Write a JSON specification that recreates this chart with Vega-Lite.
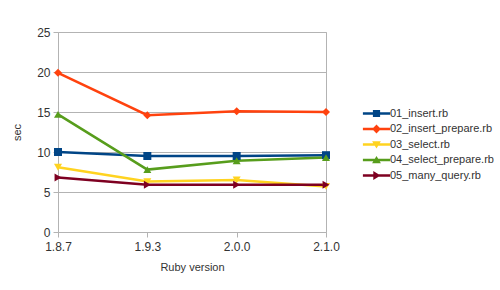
{
  "$schema": "https://vega.github.io/schema/vega-lite/v6.json",
  "width": 268,
  "height": 200,
  "autosize": "none",
  "padding": {"left": 58, "top": 32, "right": 174, "bottom": 58},
  "background": "white",
  "config": {
    "font": "Liberation Sans",
    "view": {"stroke": "#b3b3b3", "strokeWidth": 1},
    "axis": {
      "labelFont": "Liberation Sans",
      "titleFont": "Liberation Sans",
      "labelFontSize": 12,
      "labelColor": "#333333",
      "titleFontSize": 11,
      "titleFontWeight": "normal",
      "titleColor": "#333333",
      "domainColor": "#b3b3b3",
      "tickColor": "#b3b3b3",
      "gridColor": "#b3b3b3",
      "gridOpacity": 1
    },
    "legend": {"labelFont": "Liberation Sans", "labelFontSize": 11, "labelColor": "#333333"}
  },
  "data": {
    "values": [
      {"version": "1.8.7", "script": "01_insert.rb", "sec": 10.0},
      {"version": "1.9.3", "script": "01_insert.rb", "sec": 9.5},
      {"version": "2.0.0", "script": "01_insert.rb", "sec": 9.5},
      {"version": "2.1.0", "script": "01_insert.rb", "sec": 9.6},
      {"version": "1.8.7", "script": "02_insert_prepare.rb", "sec": 19.9},
      {"version": "1.9.3", "script": "02_insert_prepare.rb", "sec": 14.6},
      {"version": "2.0.0", "script": "02_insert_prepare.rb", "sec": 15.1},
      {"version": "2.1.0", "script": "02_insert_prepare.rb", "sec": 15.0},
      {"version": "1.8.7", "script": "03_select.rb", "sec": 8.1},
      {"version": "1.9.3", "script": "03_select.rb", "sec": 6.3},
      {"version": "2.0.0", "script": "03_select.rb", "sec": 6.5},
      {"version": "2.1.0", "script": "03_select.rb", "sec": 5.7},
      {"version": "1.8.7", "script": "04_select_prepare.rb", "sec": 14.7},
      {"version": "1.9.3", "script": "04_select_prepare.rb", "sec": 7.8},
      {"version": "2.0.0", "script": "04_select_prepare.rb", "sec": 8.9},
      {"version": "2.1.0", "script": "04_select_prepare.rb", "sec": 9.3},
      {"version": "1.8.7", "script": "05_many_query.rb", "sec": 6.8},
      {"version": "1.9.3", "script": "05_many_query.rb", "sec": 5.9},
      {"version": "2.0.0", "script": "05_many_query.rb", "sec": 5.9},
      {"version": "2.1.0", "script": "05_many_query.rb", "sec": 5.9}
    ]
  },
  "encoding": {
    "x": {
      "field": "version",
      "type": "ordinal",
      "scale": {"type": "point", "padding": 0},
      "axis": {"labelAngle": 0, "title": "Ruby version", "tickSize": 5, "labelPadding": 4, "titlePadding": 9, "grid": false, "domain": false}
    },
    "y": {
      "field": "sec",
      "type": "quantitative",
      "scale": {"domain": [0, 25], "nice": false},
      "axis": {"values": [0, 5, 10, 15, 20, 25], "title": "sec", "tickSize": 5, "labelPadding": 3, "titlePadding": 14, "domain": false}
    },
    "color": {
      "field": "script",
      "type": "nominal",
      "scale": {
        "domain": ["01_insert.rb", "02_insert_prepare.rb", "03_select.rb", "04_select_prepare.rb", "05_many_query.rb"],
        "range": ["#004586", "#ff420e", "#ffd320", "#579d1c", "#7e0021"]
      },
      "legend": {
        "title": null,
        "orient": "none",
        "legendX": 313,
        "legendY": 76,
        "padding": 0,
        "symbolSize": 64,
        "labelOffset": 8,
        "rowPadding": 3.5,
        "encode": {
          "symbols": {
            "update": {
              "shape": {"signal": "datum.value === '01_insert.rb' ? 'M-3.4,-0.3H3.4V0.3H-3.4Z M-0.9,-0.9H0.9V0.9H-0.9Z' : datum.value === '02_insert_prepare.rb' ? 'M-3.4,-0.3H3.4V0.3H-3.4Z M0,-1.1L1.1,0L0,1.1L-1.1,0Z' : datum.value === '03_select.rb' ? 'M-3.4,-0.3H3.4V0.3H-3.4Z M-1.1,-0.8L1.1,-0.8L0,1Z' : datum.value === '04_select_prepare.rb' ? 'M-3.4,-0.3H3.4V0.3H-3.4Z M-1.1,0.8L0,-1L1.1,0.8Z' : 'M-3.4,-0.3H3.4V0.3H-3.4Z M-0.8,-1.1L1,0L-0.8,1.1Z'"},
              "fill": {"scale": "color", "field": "value"},
              "strokeWidth": {"value": 0},
              "opacity": {"value": 1}
            }
          }
        }
      }
    }
  },
  "layer": [
    {"mark": {"type": "line", "strokeWidth": 2.5}},
    {
      "mark": {"type": "point", "filled": true, "opacity": 1, "size": 64},
      "encoding": {
        "shape": {
          "field": "script",
          "type": "nominal",
          "scale": {
            "domain": ["05_many_query.rb", "04_select_prepare.rb", "03_select.rb", "02_insert_prepare.rb", "01_insert.rb"],
            "range": ["triangle-right", "triangle-up", "triangle-down", "diamond", "square"]
          },
          "legend": null
        }
      }
    }
  ]
}
